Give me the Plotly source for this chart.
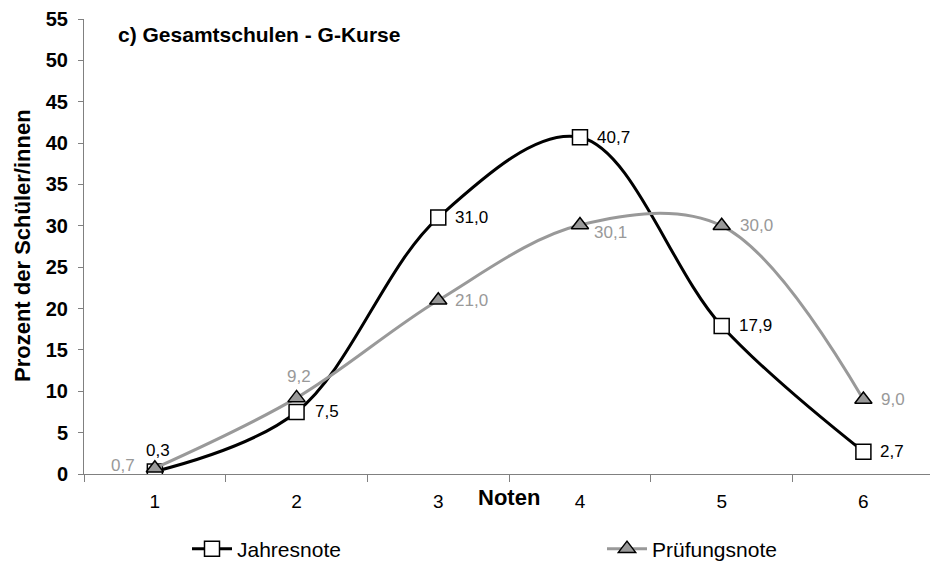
import plotly.graph_objects as go

noten = ["1", "2", "3", "4", "5", "6"]
jahresnote = [0.3, 7.5, 31.0, 40.7, 17.9, 2.7]
pruefungsnote = [0.7, 9.2, 21.0, 30.1, 30.0, 9.0]
y_ticks = [0, 5, 10, 15, 20, 25, 30, 35, 40, 45, 50, 55]

FONT = "Arial, Liberation Sans, sans-serif"
L, T, W, H = 84, 19, 846, 455  # plot area in px


def fmt(v):
    return f"{v:.1f}".replace(".", ",")


def px_x(x):
    return (x - L) / W


def px_y(y):
    return (T + H - y) / H


fig = go.Figure()
fig.add_trace(go.Scatter(
    x=noten, y=jahresnote, name="Jahresnote", legend="legend",
    mode="lines+markers",
    line=dict(color="black", width=3, shape="spline", smoothing=1.0),
    marker=dict(symbol="square", size=15, color="white", line=dict(color="black", width=1.5)),
))
fig.add_trace(go.Scatter(
    x=noten, y=pruefungsnote, name="Prüfungsnote", legend="legend2",
    mode="lines+markers",
    line=dict(color="#999999", width=3, shape="spline", smoothing=1.0),
    marker=dict(symbol="triangle-up", size=15, color="#999999", line=dict(color="black", width=1.5)),
))

# label placement (style): (xanchor, xshift, yshift)
pos_j = [("center", 3, 21), ("left", 16, 0), ("left", 15, 0), ("left", 15, 0), ("left", 15, 0), ("left", 15, 0)]
pos_p = [("right", -18, 3), ("center", 2, 21), ("left", 15, 0), ("left", 12, -8), ("left", 16, 0), ("left", 16, 0)]

annotations = []
for vals, pos, col in ((jahresnote, pos_j, "black"), (pruefungsnote, pos_p, "#999999")):
    for i, (v, (xa, xs, ys)) in enumerate(zip(vals, pos)):
        annotations.append(dict(
            x=i, y=v, xref="x", yref="y", text=fmt(v), showarrow=False,
            xanchor=xa, yanchor="middle", xshift=xs, yshift=ys,
            font=dict(family=FONT, size=17, color=col)))

annotations += [
    dict(text="<b>c) Gesamtschulen - G-Kurse</b>", xref="paper", yref="paper",
         x=px_x(116), y=px_y(35), xanchor="left", yanchor="middle",
         showarrow=False, font=dict(size=21)),
    dict(text="<b>Noten</b>", xref="paper", yref="paper",
         x=px_x(509), y=px_y(497), xanchor="center", yanchor="middle",
         showarrow=False, font=dict(size=22)),
    dict(text="<b>Prozent der Schüler/innen</b>", xref="paper", yref="paper",
         x=px_x(22), y=px_y(246), xanchor="center", yanchor="middle", textangle=-90,
         showarrow=False, font=dict(size=22)),
]

legend_common = dict(orientation="h", yanchor="middle", xanchor="left",
                     font=dict(size=21, family=FONT, color="black"),
                     bgcolor="rgba(0,0,0,0)", itemwidth=40)

fig.update_layout(
    width=930, height=564,
    margin=dict(l=L, r=0, t=T, b=564 - T - H, autoexpand=False),
    paper_bgcolor="white", plot_bgcolor="white",
    font=dict(family=FONT, color="black"),
    showlegend=True,
    legend=dict(x=px_x(187), y=px_y(549), **legend_common),
    legend2=dict(x=px_x(602), y=px_y(549), **legend_common),
    xaxis=dict(type="category", range=[-0.5, 5.47], showline=True, linecolor="#808080", linewidth=1,
               ticks="outside", tickson="boundaries", ticklen=7, tickcolor="#808080",
               tickfont=dict(size=19, family=FONT, color="black"), ticklabelstandoff=10,
               showgrid=False, zeroline=False, automargin=False),
    yaxis=dict(range=[0, 55], tickvals=y_ticks, showline=True, linecolor="#808080", linewidth=1,
               ticks="outside", ticklen=5, tickcolor="#808080", showgrid=False, zeroline=False,
               tickfont=dict(size=20, family=FONT, weight="bold"), ticklabelstandoff=6,
               automargin=False),
    annotations=annotations,
)

fig.write_html("out.html", config={"displayModeBar": False},
               post_script="document.body.style.margin='0';")
